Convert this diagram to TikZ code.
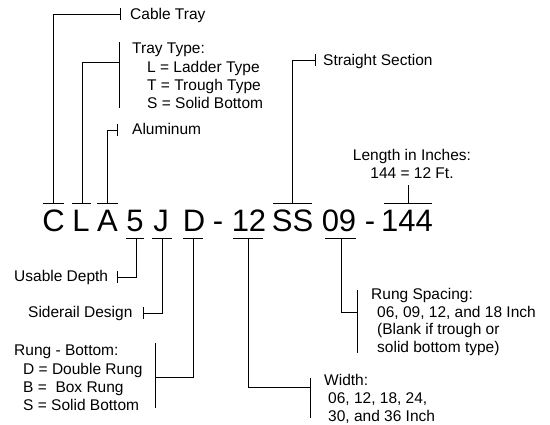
\documentclass[tikz,border=0pt]{standalone}
\usepackage{fontspec}
\setmainfont{Liberation Sans}
\begin{document}
\begin{tikzpicture}[x=1pt,y=-1pt,
  big/.style={font=\fontsize{31}{31}\selectfont, inner sep=0pt, anchor=base},
  lbl/.style={font=\fontsize{15.5}{18}\selectfont, inner sep=0pt, anchor=base west},
  lblc/.style={font=\fontsize{15.5}{18}\selectfont, inner sep=0pt, anchor=base},
  ln/.style={line width=0.8pt, black}]
\useasboundingbox (0,0) rectangle (550,425);
% code tokens
\node[big] (tC) at (53.5,232) {C};
\node[big] (tL) at (81,232) {L};
\node[big] (tA) at (107.5,232) {A};
\node[big] (t5) at (135,232) {5};
\node[big] (tJ) at (161,232) {J};
\node[big] (tD) at (194,232) {D};
\node[big] (td1) at (218,232) {-};
\node[big] (t12) at (249,232) {12};
\node[big] (tSS) at (292.5,232) {SS};
\node[big] (t09) at (339,232) {09};
\node[big] (td2) at (370,232) {-};
\node[big] (t144) at (407,232) {144};
% bars
\draw[ln] (43,203) -- (64,203);
\draw[ln] (72,203) -- (91,203);
\draw[ln] (97,203) -- (118,203);
\draw[ln] (273,203) -- (312,203);
\draw[ln] (384,203) -- (432,203);
\draw[ln] (126,238) -- (144,238);
\draw[ln] (152,238) -- (172,238);
\draw[ln] (183,238) -- (203,238);
\draw[ln] (233,238) -- (263,238);
\draw[ln] (325,238) -- (356,238);
% labels top
\node[lbl] (cable) at (130,20) {Cable Tray};
\node[lbl] (tt0) at (132,54) {Tray Type:};
\node[lbl] (tt1) at (147,72.5) {L = Ladder Type};
\node[lbl] (tt2) at (147,90.5) {T = Trough Type};
\node[lbl] (tt3) at (147,108.5) {S = Solid Bottom};
\node[lbl] (alu) at (132,135) {Aluminum};
\node[lbl] (ss) at (323,66) {Straight Section};
\node[lblc] (len0) at (412,161) {Length in Inches:};
\node[lblc] (len1) at (412,179) {144 = 12 Ft.};
% labels bottom
\node[lbl] (ud) at (14,282) {Usable Depth};
\node[lbl] (sd) at (28,318) {Siderail Design};
\node[lbl] (rb0) at (14,356) {Rung - Bottom:};
\node[lbl] (rb1) at (23,374) {D = Double Rung};
\node[lbl] (rb2) at (23,392) {B = \ Box Rung};
\node[lbl] (rb3) at (23,410) {S = Solid Bottom};
\node[lbl] (rs0) at (371,300) {Rung Spacing:};
\node[lbl] (rs1) at (377,317.5) {06, 09, 12, and 18 Inch};
\node[lbl] (rs2) at (377,335) {(Blank if trough or};
\node[lbl] (rs3) at (377,352.5) {solid bottom type)};
\node[lbl] (w0) at (324,386) {Width:};
\node[lbl] (w1) at (328,404) {06, 12, 18, 24,};
\node[lbl] (w2) at (328,422) {30, and 36 Inch};
% connectors top
\draw[ln] (53,203) -- (53,14) -- (120,14);
\draw[ln] (120,8) -- (120,20);
\draw[ln] (82,203) -- (82,62) -- (119,62);
\draw[ln] (119,42) -- (119,108);
\draw[ln] (107,203) -- (107,130) -- (117,130);
\draw[ln] (117,124) -- (117,136);
\draw[ln] (292,203) -- (292,60) -- (315,60);
\draw[ln] (315,54) -- (315,66);
\draw[ln] (408,203) -- (408,185);
% connectors bottom
\draw[ln] (136,238) -- (136,277) -- (117,277);
\draw[ln] (117,271) -- (117,283);
\draw[ln] (162,238) -- (162,313) -- (143,313);
\draw[ln] (143,307) -- (143,319);
\draw[ln] (193,238) -- (193,377) -- (155,377);
\draw[ln] (155,343) -- (155,408);
\draw[ln] (248,238) -- (248,387) -- (310,387);
\draw[ln] (310,378) -- (310,418);
\draw[ln] (341,238) -- (341,312) -- (357,312);
\draw[ln] (357,290) -- (357,353);
\end{tikzpicture}
\end{document}
